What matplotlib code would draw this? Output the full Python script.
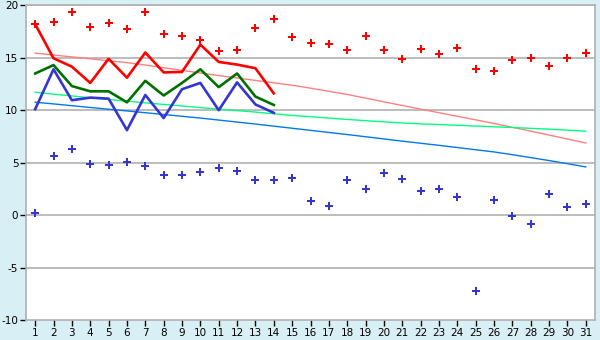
import numpy as np
import matplotlib
matplotlib.use('Agg')
import matplotlib.pyplot as plt

plt.rcParams['axes.unicode_minus'] = False

days = list(range(1, 32))

# scattered points over the whole month
high_pts = [18.2, 18.4, 19.4, 17.9, 18.3, 17.7, 19.4, 17.3, 17.1, 16.65,
            15.6, 15.7, 17.8, 18.65, 16.95, 16.4, 16.3, 15.7, 17.1, 15.7,
            14.85, 15.8, 15.4, 15.9, 13.9, 13.7, 14.75, 14.95, 14.2, 14.95, 15.5]
low_pts = [0.2, 5.6, 6.3, 4.85, 4.75, 5.05, 4.65, 3.8, 3.85, 4.15,
           4.45, 4.25, 3.35, 3.35, 3.5, 1.35, 0.85, 3.35, 2.45, 4.0,
           3.45, 2.3, 2.45, 1.7, -7.25, 1.4, -0.1, -0.85, 2.0, 0.75, 1.05]

# lines for the first 14 days
red_line = [18.2, 14.95, 14.15, 12.6, 14.9, 13.1, 15.5, 13.6, 13.65, 16.25,
            14.6, 14.35, 14.0, 11.6]
green_line = [13.5, 14.3, 12.3, 11.8, 11.8, 10.75, 12.8, 11.4, 12.6, 13.9,
              12.2, 13.5, 11.3, 10.5]
blue_line = [10.1, 13.9, 10.95, 11.2, 11.1, 8.1, 11.45, 9.25, 12.0, 12.6,
             10.0, 12.65, 10.55, 9.75]

# trend curves
pink_trend = [15.44, 15.26, 15.08, 14.9, 14.72, 14.53, 14.3, 14.05, 13.8, 13.55,
              13.3, 13.07, 12.84, 12.61, 12.38, 12.1, 11.8, 11.5, 11.15, 10.8,
              10.45, 10.1, 9.76, 9.42, 9.08, 8.73, 8.37, 8.0, 7.63, 7.25, 6.87]
green_trend = [11.71, 11.53, 11.36, 11.19, 11.02, 10.86, 10.7, 10.55, 10.4, 10.25,
               10.1, 9.96, 9.82, 9.66, 9.5, 9.38, 9.25, 9.12, 9.0, 8.89,
               8.78, 8.7, 8.63, 8.56, 8.49, 8.42, 8.35, 8.27, 8.19, 8.1, 8.0]
blue_trend = [10.76, 10.6, 10.43, 10.26, 10.09, 9.93, 9.76, 9.59, 9.42, 9.25,
              9.06, 8.87, 8.68, 8.48, 8.28, 8.08, 7.88, 7.68, 7.47, 7.26,
              7.05, 6.85, 6.65, 6.44, 6.23, 6.02, 5.76, 5.48, 5.2, 4.9, 4.59]

bg = '#d9eff6'
fig = plt.figure(figsize=(6, 3.4), dpi=100, facecolor=bg)
ax = fig.add_axes([26 / 600, 1 - 320 / 340, 569 / 600, 314.7 / 340])
ax.set_facecolor('white')

for y in range(-5, 21, 5):
    ax.axhline(y, color='#b0b0b0', lw=1.2, zorder=1)

ax.plot(days, pink_trend, color='#ff8080', lw=1, zorder=2)
ax.plot(days, green_trend, color='#00ff80', lw=1, zorder=2)
ax.plot(days, blue_trend, color='#0078f0', lw=1, zorder=2)

d14 = days[:14]
ax.plot(d14, red_line, color='#ff0000', lw=1.9, zorder=3)
ax.plot(d14, green_line, color='#007000', lw=1.9, zorder=3)
ax.plot(d14, blue_line, color='#3535d0', lw=1.9, zorder=3)

ax.plot(days, high_pts, 'P', color='#ff0000', ms=5.5, mew=0, zorder=4)
ax.plot(days, low_pts, 'P', color='#3535d0', ms=5.5, mew=0, zorder=4)

ax.set_xlim(0.5, 31.5)
ax.set_ylim(-10, 20)
ax.set_xticks(days)
ax.set_yticks(range(-10, 21, 5))
ax.tick_params(axis='both', direction='out', length=4, width=1, color='black',
               labelsize=7.5, pad=1.5)
for s in ax.spines.values():
    s.set_color('#b0b0b0')
    s.set_linewidth(1.2)

fig.savefig('out.png', dpi=100, facecolor=bg)
